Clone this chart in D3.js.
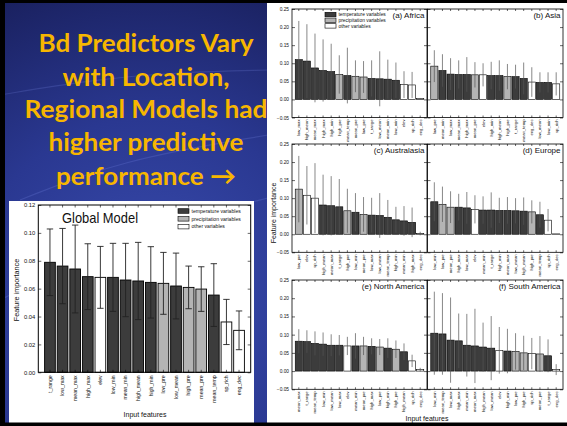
<!DOCTYPE html>
<html>
<head>
<meta charset="utf-8">
<script src="https://cdn.jsdelivr.net/npm/d3@7"></script>
<style>
  html, body { margin: 0; padding: 0; background: #000; }
  svg { display: block; }
  text { font-family: "Liberation Sans", Arial, sans-serif; }
</style>
</head>
<body>
<svg id="slide" width="567" height="426"></svg>
<script>
// ---------- Data ----------
const headline = ["Bd Predictors Vary", "with Location,", "Regional Models had", "higher predictive", "performance \u2192"];

const legendLabels = ["temperature variables", "precipitation variables", "other variables"];

// Global model (feature importance and std)
const globalFeatures = ["t_range", "low_max", "mean_max", "high_max", "elev", "low_min", "mean_min", "high_mean",
  "high_min", "low_pre", "low_mean", "high_pre", "mean_pre", "mean_temp", "sp_rich", "eng_dec"];
const globalValues = [0.0789, 0.0762, 0.0741, 0.0686, 0.0681, 0.0681, 0.0662, 0.0655,
  0.0645, 0.0638, 0.0619, 0.0609, 0.0597, 0.0554, 0.0361, 0.0301];
const globalErrors = [0.0239, 0.0270, 0.0315, 0.0236, 0.0222, 0.0244, 0.0263, 0.0277,
  0.0256, 0.0222, 0.0236, 0.0153, 0.0160, 0.0225, 0.0162, 0.0139];
const globalTicks = [0, 0.02, 0.04, 0.06, 0.08, 0.10, 0.12];

// Regional models
const africaFeatures = ["low_max", "high_mean", "mean_max", "high_max", "high_min", "high_pre", "mean_temp", "mean_pre",
  "low_pre", "t_range", "low_mean", "mean_min", "low_min", "elev", "sp_rich", "eng_dec"];
const africaValues = [0.110, 0.106, 0.087, 0.080, 0.077, 0.069, 0.066, 0.064, 0.062, 0.058, 0.057, 0.056, 0.053, 0.041, 0.040, 0.003];
const africaErrors = [0.107, 0.102, 0.095, 0.086, 0.077, 0.053, 0.077, 0.044, 0.044, 0.050, 0.076, 0.054, 0.049, 0.037, 0.036, 0.001];

const asiaFeatures = ["low_pre", "mean_min", "low_max", "mean_max", "high_max", "mean_pre", "elev", "high_min",
  "high_mean", "high_pre", "t_range", "mean_temp", "eng_dec", "low_mean", "low_min", "sp_rich"];
const asiaValues = [0.092, 0.080, 0.070, 0.069, 0.069, 0.068, 0.068, 0.066, 0.066, 0.063, 0.063, 0.058, 0.048, 0.047, 0.047, 0.043];
const asiaErrors = [0.044, 0.045, 0.044, 0.039, 0.048, 0.035, 0.032, 0.038, 0.042, 0.035, 0.033, 0.044, 0.041, 0.028, 0.028, 0.032];

const australasiaFeatures = ["low_pre", "elev", "sp_rich", "high_mean", "mean_max", "t_range", "high_pre", "low_min",
  "mean_pre", "low_max", "low_mean", "mean_temp", "high_min", "mean_min", "high_max", "eng_dec"];
const australasiaValues = [0.125, 0.108, 0.100, 0.081, 0.079, 0.076, 0.065, 0.061, 0.055, 0.053, 0.052, 0.047, 0.040, 0.037, 0.033, 0.002];
const australasiaErrors = [0.092, 0.081, 0.097, 0.084, 0.082, 0.077, 0.061, 0.053, 0.048, 0.048, 0.062, 0.048, 0.036, 0.041, 0.041, 0.005];

const europeFeatures = ["low_min", "low_pre", "mean_pre", "high_max", "low_max", "elev", "mean_min", "t_range",
  "high_min", "mean_max", "low_mean", "high_mean", "high_pre", "mean_temp", "sp_rich", "eng_dec"];
const europeValues = [0.090, 0.083, 0.075, 0.075, 0.073, 0.069, 0.067, 0.067, 0.066, 0.066, 0.065, 0.064, 0.062, 0.054, 0.039, 0.001];
const europeErrors = [0.054, 0.049, 0.044, 0.037, 0.044, 0.039, 0.038, 0.049, 0.035, 0.037, 0.035, 0.038, 0.032, 0.036, 0.031, 0];

const northAmericaFeatures = ["mean_max", "t_range", "mean_temp", "low_min", "low_mean", "low_max", "elev", "mean_min",
  "mean_pre", "high_max", "low_pre", "high_min", "high_pre", "high_mean", "sp_rich", "eng_dec"];
const northAmericaValues = [0.082, 0.081, 0.076, 0.074, 0.071, 0.071, 0.069, 0.069, 0.069, 0.068, 0.066, 0.063, 0.060, 0.053, 0.028, 0.004];
const northAmericaErrors = [0.033, 0.031, 0.033, 0.032, 0.030, 0.028, 0.025, 0.035, 0.025, 0.022, 0.022, 0.027, 0.024, 0.023, 0.017, 0.005];

const southAmericaFeatures = ["low_min", "mean_temp", "low_max", "high_max", "mean_min", "mean_max", "high_mean", "low_mean",
  "elev", "high_min", "low_pre", "high_pre", "sp_rich", "mean_pre", "t_range", "eng_dec"];
const southAmericaValues = [0.104, 0.102, 0.085, 0.083, 0.071, 0.069, 0.066, 0.063, 0.057, 0.055, 0.054, 0.050, 0.048, 0.047, 0.042, 0.004];
const southAmericaErrors = [0.114, 0.112, 0.117, 0.075, 0.086, 0.102, 0.067, 0.088, 0.064, 0.061, 0.050, 0.047, 0.043, 0.049, 0.045, 0.015];

const regionalTicks = [-0.05, 0, 0.05, 0.10, 0.15, 0.20, 0.25];

// ---------- Helpers ----------
const otherVars = ["elev", "sp_rich", "eng_dec"];
function groupOf(name) {
  if (otherVars.includes(name)) return 2;
  if (name.endsWith("_pre")) return 1;
  return 0;
}
const groupFill = ["#3c3c3c", "#b4b4b4", "#ffffff"];

const svg = d3.select("#slide");
const W = 567, H = 426;

// ---------- Slide background ----------
const defs = svg.append("defs");
const bg = defs.append("radialGradient").attr("id", "bgGrad")
  .attr("gradientUnits", "userSpaceOnUse")
  .attr("cx", 150).attr("cy", 300).attr("r", 330);
bg.append("stop").attr("offset", 0).attr("stop-color", "#3a4db0");
bg.append("stop").attr("offset", 0.55).attr("stop-color", "#2a3891");
bg.append("stop").attr("offset", 1).attr("stop-color", "#1a2160");
svg.append("rect").attr("x", 0).attr("y", 0).attr("width", 268).attr("height", H).attr("fill", "url(#bgGrad)");

// faint light streaks across the backdrop
const streak = d3.line().curve(d3.curveBasis);
[[[0, 95], [90, 80], [180, 72], [268, 70]],
 [[0, 300], [100, 250], [200, 215], [268, 198]],
 [[20, 200], [120, 160], [268, 135]]].forEach(pts => {
  svg.append("path").attr("d", streak(pts)).attr("fill", "none")
    .attr("stroke", "#8fa3ff").attr("stroke-opacity", 0.18).attr("stroke-width", 1.2);
});

// ---------- Headline ----------
const headWidths = [215, 167, 243, 195, 180];
const headBase = [52, 86, 118, 151, 185];
headline.forEach((t, i) => {
  svg.append("text")
    .attr("x", 146).attr("y", headBase[i])
    .attr("text-anchor", "middle")
    .attr("textLength", headWidths[i]).attr("lengthAdjust", "spacingAndGlyphs")
    .style("font-family", "Lato, 'Open Sans', sans-serif")
    .style("font-weight", 700).style("font-size", "25px")
    .attr("fill", "#f7b600")
    .text(t);
});

// ---------- Regional figure (white panel) ----------
svg.append("rect").attr("x", 267).attr("y", 0).attr("width", W - 267).attr("height", H).attr("fill", "#ffffff");

function legend(g, x, y, rowGap, sw, sh, fs) {
  legendLabels.forEach((lab, i) => {
    g.append("rect").attr("x", x).attr("y", y + i * rowGap - sh / 2)
      .attr("width", sw).attr("height", sh)
      .attr("fill", groupFill[i]).attr("stroke", "#000").attr("stroke-width", 0.6);
    g.append("text").attr("x", x + sw + 2.5).attr("y", y + i * rowGap + fs * 0.36)
      .style("font-size", fs + "px").attr("fill", "#111").text(lab);
  });
}

function barPanel(o) {
  const g = svg.append("g");
  const x = d3.scaleBand().domain(o.features).range([o.x0, o.x1])
    .paddingInner(o.padIn).paddingOuter(o.padOut);
  const y = d3.scaleLinear().domain(o.domain).range([o.y1, o.y0]);

  // bars
  g.selectAll("rect.bar").data(o.features).join("rect")
    .attr("class", "bar")
    .attr("x", d => x(d)).attr("width", x.bandwidth())
    .attr("y", (d, i) => y(o.values[i]))
    .attr("height", (d, i) => Math.max(0.01, y(0) - y(o.values[i])))
    .attr("fill", d => groupFill[groupOf(d)])
    .attr("stroke", "#000").attr("stroke-width", o.barStroke);

  // error bars (value ± std)
  const eb = g.selectAll("g.err").data(o.features).join("g").attr("class", "err");
  eb.append("line")
    .attr("x1", d => x(d) + x.bandwidth() / 2).attr("x2", d => x(d) + x.bandwidth() / 2)
    .attr("y1", (d, i) => y(o.values[i] + o.errors[i]))
    .attr("y2", (d, i) => y(o.values[i] - o.errors[i]))
    .attr("stroke", o.errColor).attr("stroke-width", o.errWidth);
  if (o.cap > 0) {
    [1, -1].forEach(s => {
      eb.append("line")
        .attr("x1", d => x(d) + x.bandwidth() / 2 - o.cap).attr("x2", d => x(d) + x.bandwidth() / 2 + o.cap)
        .attr("y1", (d, i) => y(o.values[i] + s * o.errors[i]))
        .attr("y2", (d, i) => y(o.values[i] + s * o.errors[i]))
        .attr("stroke", o.errColor).attr("stroke-width", o.errWidth);
    });
  }

  // axes, ticks pointing inward on all four sides
  const fmt = d3.format(".2f");
  const left = g.append("g").attr("transform", `translate(${o.x0},0)`)
    .call(d3.axisLeft(y).tickValues(o.ticks).tickSize(-o.tick).tickPadding(o.tickPad)
      .tickFormat(o.yLabels ? fmt : ""));
  const right = g.append("g").attr("transform", `translate(${o.x1},0)`)
    .call(d3.axisRight(y).tickValues(o.ticks).tickSize(-o.tick).tickFormat(""));
  const bottom = g.append("g").attr("transform", `translate(0,${o.y1})`)
    .call(d3.axisBottom(x).tickSize(-o.xtick).tickPadding(0));
  const top = g.append("g").attr("transform", `translate(0,${o.y0})`)
    .call(d3.axisTop(x).tickSize(-o.xtick).tickFormat(""));
  [left, right, bottom, top].forEach(a => {
    a.select(".domain").remove();
    a.selectAll("line").attr("stroke", "#000").attr("stroke-width", 0.6);
  });
  left.selectAll("text").style("font-size", o.yfs + "px").attr("fill", "#111")
    .style("font-family", "'Liberation Sans', Arial, sans-serif");
  bottom.selectAll("text")
    .attr("transform", "rotate(-90)")
    .attr("text-anchor", "end")
    .attr("x", -o.xLabGap).attr("y", 0).attr("dy", "0.35em")
    .style("font-size", o.xfs + "px").attr("fill", "#111")
    .style("font-family", "'Liberation Sans', Arial, sans-serif");
  // bottom axis tick text sits below the panel: ticks rotated with labels, keep labels at bar centers
  bottom.selectAll(".tick text").attr("transform", "rotate(-90)");

  // frame
  g.append("rect").attr("x", o.x0).attr("y", o.y0)
    .attr("width", o.x1 - o.x0).attr("height", o.y1 - o.y0)
    .attr("fill", "none").attr("stroke", "#000").attr("stroke-width", o.frame);

  if (o.title) {
    g.append("text").attr("x", o.x1 - 2.5).attr("y", o.y0 + 9)
      .attr("text-anchor", "end").style("font-size", "8px").attr("fill", "#111").text(o.title);
  }
  return g;
}

const colX = [[292, 427], [427.5, 563]];
const rowY = [[9, 117.5], [144, 252.3], [280, 389.3]];
const regions = [
  { f: africaFeatures, v: africaValues, e: africaErrors, t: "(a) Africa", c: 0, r: 0 },
  { f: asiaFeatures, v: asiaValues, e: asiaErrors, t: "(b) Asia", c: 1, r: 0 },
  { f: australasiaFeatures, v: australasiaValues, e: australasiaErrors, t: "(c) Australasia", c: 0, r: 1 },
  { f: europeFeatures, v: europeValues, e: europeErrors, t: "(d) Europe", c: 1, r: 1 },
  { f: northAmericaFeatures, v: northAmericaValues, e: northAmericaErrors, t: "(e) North America", c: 0, r: 2 },
  { f: southAmericaFeatures, v: southAmericaValues, e: southAmericaErrors, t: "(f) South America", c: 1, r: 2 }
];
regions.forEach(rg => {
  barPanel({
    features: rg.f, values: rg.v, errors: rg.e, title: rg.t,
    x0: colX[rg.c][0], x1: colX[rg.c][1], y0: rowY[rg.r][0], y1: rowY[rg.r][1],
    domain: [-0.05, 0.25], ticks: regionalTicks, yLabels: rg.c === 0,
    padIn: 0.12, padOut: 0.4, barStroke: 0.6, errColor: "#555", errWidth: 0.7, cap: 0,
    tick: 3, xtick: 2, tickPad: 3, yfs: 4.8, xfs: 4.2, xLabGap: 2, frame: 0.8
  });
});

const reg = svg.append("g");
legend(reg, 325, 14.5, 5.7, 11, 4.4, 4.9);
reg.append("text").attr("transform", "translate(276,213) rotate(-90)")
  .attr("text-anchor", "middle").style("font-size", "7px").attr("fill", "#111").text("Feature importance");
reg.append("text").attr("x", 427).attr("y", 420.5)
  .attr("text-anchor", "middle").style("font-size", "7px").attr("fill", "#111").text("Input features");

// ---------- Global model figure ----------
svg.append("rect").attr("x", 9).attr("y", 201).attr("width", 245).attr("height", 222).attr("fill", "#ffffff");
const gl = barPanel({
  features: globalFeatures, values: globalValues, errors: globalErrors, title: null,
  x0: 38.3, x1: 250.7, y0: 205, y1: 372.3,
  domain: [0, 0.12], ticks: globalTicks, yLabels: true,
  padIn: 0.15, padOut: 0.5, barStroke: 0.9, errColor: "#222", errWidth: 0.9, cap: 3.2,
  tick: 3, xtick: 2.5, tickPad: 3, yfs: 5.8, xfs: 5.2, xLabGap: 3, frame: 1
});
gl.append("text").attr("x", 62).attr("y", 223)
  .attr("textLength", 76).attr("lengthAdjust", "spacingAndGlyphs")
  .style("font-size", "15px").attr("fill", "#111").text("Global Model");
legend(gl, 178, 211, 7.8, 11, 4.6, 5.1);
gl.append("text").attr("transform", "translate(18.5,290) rotate(-90)")
  .attr("text-anchor", "middle").style("font-size", "7.2px").attr("fill", "#111").text("Feature importance");
gl.append("text").attr("x", 145).attr("y", 417)
  .attr("text-anchor", "middle").style("font-size", "7px").attr("fill", "#111").text("Input features");

// ---------- Slide frame ----------
svg.append("rect").attr("x", 0).attr("y", 0).attr("width", W).attr("height", 3).attr("fill", "#000");
svg.append("rect").attr("x", 0).attr("y", 422.5).attr("width", W).attr("height", 3.5).attr("fill", "#000");
svg.append("rect").attr("x", 0).attr("y", 0).attr("width", 5).attr("height", H).attr("fill", "#000");
</script>
</body>
</html>
